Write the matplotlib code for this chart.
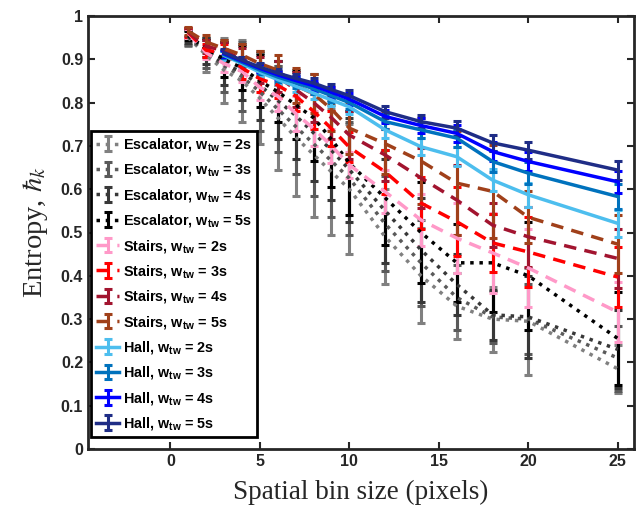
import matplotlib
matplotlib.use("Agg")
import matplotlib.pyplot as plt
from matplotlib.font_manager import FontProperties

plt.rcParams['mathtext.fontset'] = 'custom'
plt.rcParams['mathtext.rm'] = 'Liberation Sans:bold'
plt.rcParams['mathtext.bf'] = 'Liberation Sans:bold'
plt.rcParams['mathtext.it'] = 'Liberation Sans:bold'

# ---------------- data ----------------
x_all = [1, 2, 3, 4, 5, 6, 7, 8, 9, 10, 12, 14, 16, 18, 20, 25]
x_hall = [3, 4, 5, 6, 7, 8, 9, 10, 12, 14, 16, 18, 20, 25]

esc_2s = [0.950, 0.910, 0.875, 0.850, 0.810, 0.765, 0.720, 0.680, 0.640, 0.600, 0.490, 0.400, 0.330, 0.300, 0.295, 0.185]
esc_3s = [0.952, 0.915, 0.885, 0.860, 0.825, 0.785, 0.745, 0.705, 0.665, 0.625, 0.520, 0.430, 0.350, 0.305, 0.300, 0.210]
esc_4s = [0.953, 0.920, 0.890, 0.870, 0.840, 0.805, 0.770, 0.730, 0.690, 0.645, 0.550, 0.460, 0.380, 0.310, 0.305, 0.230]
esc_5s = [0.955, 0.925, 0.900, 0.880, 0.850, 0.825, 0.795, 0.765, 0.715, 0.660, 0.580, 0.500, 0.430, 0.430, 0.400, 0.255]

esc_2s_err = [0.020, 0.040, 0.075, 0.095, 0.105, 0.120, 0.135, 0.145, 0.145, 0.150, 0.110, 0.110, 0.076, 0.075, 0.124, 0.056]
esc_3s_err = [0.020, 0.035, 0.060, 0.080, 0.090, 0.100, 0.110, 0.120, 0.130, 0.130, 0.110, 0.100, 0.075, 0.060, 0.080, 0.075]
esc_4s_err = [0.015, 0.030, 0.050, 0.065, 0.080, 0.090, 0.100, 0.110, 0.115, 0.120, 0.120, 0.120, 0.070, 0.058, 0.095, 0.090]
esc_5s_err = [0.010, 0.020, 0.040, 0.050, 0.060, 0.070, 0.080, 0.100, 0.110, 0.120, 0.110, 0.117, 0.090, 0.113, 0.125, 0.107]

st_2s = [0.960, 0.915, 0.890, 0.872, 0.835, 0.815, 0.775, 0.740, 0.700, 0.656, 0.594, 0.529, 0.487, 0.453, 0.418, 0.316]
st_3s = [0.962, 0.921, 0.915, 0.880, 0.855, 0.840, 0.815, 0.780, 0.740, 0.697, 0.640, 0.568, 0.525, 0.476, 0.455, 0.397]
st_4s = [0.963, 0.930, 0.920, 0.900, 0.875, 0.860, 0.830, 0.800, 0.765, 0.725, 0.679, 0.626, 0.575, 0.517, 0.490, 0.440]
st_5s = [0.965, 0.940, 0.925, 0.910, 0.890, 0.875, 0.840, 0.820, 0.785, 0.741, 0.705, 0.665, 0.614, 0.595, 0.535, 0.473]

st_2s_err = [0.010, 0.015, 0.020, 0.025, 0.030, 0.035, 0.040, 0.040, 0.040, 0.030, 0.050, 0.060, 0.080, 0.093, 0.090, 0.070]
st_3s_err = [0.010, 0.015, 0.020, 0.025, 0.030, 0.030, 0.035, 0.040, 0.040, 0.035, 0.050, 0.060, 0.080, 0.067, 0.080, 0.070]
st_4s_err = [0.010, 0.015, 0.020, 0.025, 0.030, 0.035, 0.040, 0.045, 0.050, 0.055, 0.060, 0.070, 0.080, 0.050, 0.070, 0.068]
st_5s_err = [0.010, 0.015, 0.020, 0.025, 0.030, 0.035, 0.040, 0.045, 0.050, 0.060, 0.070, 0.100, 0.120, 0.108, 0.060, 0.067]

hall_2s = [0.909, 0.890, 0.870, 0.853, 0.838, 0.822, 0.806, 0.790, 0.737, 0.698, 0.675, 0.621, 0.587, 0.521]
hall_3s = [0.911, 0.893, 0.875, 0.859, 0.846, 0.832, 0.816, 0.800, 0.756, 0.737, 0.718, 0.664, 0.637, 0.583]
hall_4s = [0.913, 0.896, 0.879, 0.864, 0.851, 0.839, 0.824, 0.808, 0.768, 0.747, 0.729, 0.687, 0.664, 0.617]
hall_5s = [0.915, 0.898, 0.882, 0.868, 0.856, 0.845, 0.830, 0.816, 0.779, 0.756, 0.741, 0.707, 0.690, 0.644]

hall_2s_err = [0.010, 0.010, 0.011, 0.012, 0.013, 0.014, 0.015, 0.016, 0.018, 0.020, 0.022, 0.026, 0.028, 0.032]
hall_3s_err = [0.009, 0.009, 0.010, 0.011, 0.012, 0.013, 0.014, 0.015, 0.017, 0.019, 0.021, 0.024, 0.026, 0.028]
hall_4s_err = [0.008, 0.008, 0.009, 0.010, 0.011, 0.012, 0.013, 0.014, 0.016, 0.017, 0.019, 0.021, 0.023, 0.025]
hall_5s_err = [0.008, 0.008, 0.009, 0.010, 0.010, 0.011, 0.012, 0.012, 0.014, 0.015, 0.017, 0.019, 0.020, 0.022]

x_ticks = [0, 5, 10, 15, 20, 25]
y_ticks = [0, 0.1, 0.2, 0.3, 0.4, 0.5, 0.6, 0.7, 0.8, 0.9, 1]
y_ticklabels = ['0', '0.1', '0.2', '0.3', '0.4', '0.5', '0.6', '0.7', '0.8', '0.9', '1']

series = [
    (x_all, esc_2s, esc_2s_err, '#808080', ':', 'Escalator, w$_{\\mathbf{tw}}$ = 2s'),
    (x_all, esc_3s, esc_3s_err, '#5a5a5a', ':', 'Escalator, w$_{\\mathbf{tw}}$ = 3s'),
    (x_all, esc_4s, esc_4s_err, '#383838', ':', 'Escalator, w$_{\\mathbf{tw}}$ = 4s'),
    (x_all, esc_5s, esc_5s_err, '#000000', ':', 'Escalator, w$_{\\mathbf{tw}}$ = 5s'),
    (x_all, st_2s, st_2s_err, '#ff99c8', '--', 'Stairs, w$_{\\mathbf{tw}}$ = 2s'),
    (x_all, st_3s, st_3s_err, '#ff0000', '--', 'Stairs, w$_{\\mathbf{tw}}$ = 3s'),
    (x_all, st_4s, st_4s_err, '#a2142f', '--', 'Stairs, w$_{\\mathbf{tw}}$ = 4s'),
    (x_all, st_5s, st_5s_err, '#a0401a', '--', 'Stairs, w$_{\\mathbf{tw}}$ = 5s'),
    (x_hall, hall_2s, hall_2s_err, '#4dbeee', '-', 'Hall, w$_{\\mathbf{tw}}$ = 2s'),
    (x_hall, hall_3s, hall_3s_err, '#0072bd', '-', 'Hall, w$_{\\mathbf{tw}}$ = 3s'),
    (x_hall, hall_4s, hall_4s_err, '#0000ff', '-', 'Hall, w$_{\\mathbf{tw}}$ = 4s'),
    (x_hall, hall_5s, hall_5s_err, '#1f2d86', '-', 'Hall, w$_{\\mathbf{tw}}$ = 5s'),
]

fig = plt.figure(figsize=(6.4, 5.12), dpi=100)
ax = fig.add_axes([88 / 640, 63 / 512, 546 / 640, 433 / 512])

axcol = '#262626'
for xs, ys, es, c, ls, lab in series:
    ln = ax.errorbar(xs, ys, yerr=es, color=c, ls=ls, lw=2.5, elinewidth=2.2,
                     capsize=3, capthick=2.2, label=lab)
    if ls == '--':
        ln[0].set_dashes([3.6, 2.4])

ax.set_xlim(-4.6, 25.9)
ax.set_ylim(0, 1)
ax.set_xticks(x_ticks)
ax.set_yticks(y_ticks)
ax.set_yticklabels(y_ticklabels)
ax.tick_params(direction='in', top=True, right=True, length=5, width=1.5,
               colors=axcol, labelsize=11.5)
for lbl in ax.get_xticklabels() + ax.get_yticklabels():
    lbl.set_fontfamily('Liberation Sans')
    lbl.set_fontweight('bold')
for s in ax.spines.values():
    s.set_linewidth(2)
    s.set_color(axcol)

ax.set_xlabel('Spatial bin size (pixels)', fontfamily='Liberation Serif',
              fontsize=19.5, color=axcol, labelpad=8)
ax.set_ylabel('Entropy, $\\hbar_k$', fontfamily='Liberation Serif',
              fontsize=20.5, color=axcol, math_fontfamily='stix', labelpad=8)

prop = FontProperties(family='Liberation Sans', weight='bold', size=10.4,
                      math_fontfamily='custom')
leg = ax.legend(loc='lower left', bbox_to_anchor=(0.006, 0.027), prop=prop,
                frameon=True, fancybox=False, framealpha=1, edgecolor='black',
                handlelength=1.6, handletextpad=0.25, labelspacing=0.58,
                borderpad=0.35, borderaxespad=0)
leg.get_frame().set_linewidth(2)

fig.savefig('out.png', dpi=100)
